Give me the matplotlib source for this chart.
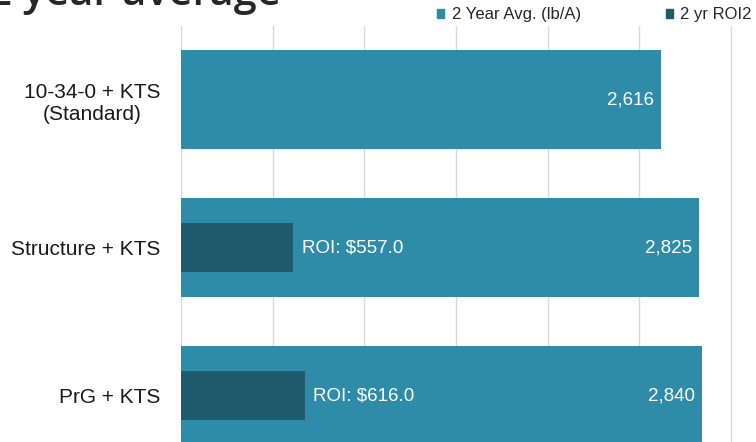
import matplotlib
matplotlib.use("Agg")
import matplotlib.pyplot as plt
import numpy as np
from matplotlib.patches import Patch

# Data
categories = ["10-34-0 + KTS\n(Standard)", "Structure + KTS", "PrG + KTS"]
yield_avg = [2616, 2825, 2840]          # 2 Year Avg. (lb/A)
roi = [np.nan, 557.0, 616.0]            # 2 yr ROI
series_names = ["2 Year Avg. (lb/A)", "2 yr ROI2"]
title_text = "Yield: 2 year average"

c_main = "#2E8CA8"
c_dark = "#1F5B6D"
grid_c = "#D9D9D9"
txt_c = "#1A1A1A"

plt.rcParams['font.family'] = ['Liberation Sans', 'DejaVu Sans']

W, H = 756, 442
fig = plt.figure(figsize=(W / 100, H / 100), dpi=100)

px_per_unit = 0.18333
xmax = 3200
left_px, top_px, bot_px = 181, 25.5, 469.5
ax_w = xmax * px_per_unit
ax = fig.add_axes([left_px / W, (H - bot_px) / H, ax_w / W, (bot_px - top_px) / H])

y = np.arange(len(categories))
ax.barh(y, yield_avg, height=0.67, color=c_main, zorder=2)
ax.set_xlim(0, xmax)
ax.set_ylim(len(categories) - 0.5, -0.5)
ax.set_xticks(np.arange(0, 3001, 500))
ax.xaxis.grid(True, color=grid_c, lw=1)
ax.set_axisbelow(True)
ax.tick_params(axis='x', length=0, labelbottom=False, labeltop=False)
ax.set_yticks(y)
ax.set_yticklabels(categories, fontsize=15, color=txt_c)
ax.tick_params(axis='y', length=0, pad=14.5)
for s in ax.spines.values():
    s.set_visible(False)

for yi, v in zip(y, yield_avg):
    ax.annotate(f"{v:,.0f}", xy=(v, yi), xytext=(-5, 0), textcoords='offset points',
                ha='right', va='center', color='white', fontsize=13.5, zorder=5)

ax2 = ax.twiny()
roi_px_per_unit = 0.2015
ax2.set_xlim(0, ax_w / roi_px_per_unit)
ax2.barh(y, np.nan_to_num(roi), height=0.33, color=c_dark, zorder=3)
ax2.tick_params(axis='x', length=0, labeltop=False, labelbottom=False)
for s in ax2.spines.values():
    s.set_visible(False)
for yi, v in zip(y, roi):
    if np.isfinite(v):
        ax2.annotate(f"ROI: ${v:.1f}", xy=(v, yi), xytext=(6, 0), textcoords='offset points',
                     ha='left', va='center', color='white', fontsize=13.5, zorder=5)

for lbl in ax.get_yticklabels():
    lbl.set_horizontalalignment('right')
    lbl.set_multialignment('center')

# Legend
handles = [Patch(color=c_main), Patch(color=c_dark)]
fig.legend(handles, series_names, ncol=2, loc='center left',
           bbox_to_anchor=(437 / W, 1 - 15 / H), frameon=False, fontsize=12,
           handlelength=0.42, handleheight=0.42, handletextpad=0.45,
           columnspacing=5.1, borderpad=0, borderaxespad=0, labelcolor='#262626')

# Title (partially cropped at the top/left, as in the reference)
fig.text(281 / W, 1 - 5 / H, title_text, ha='right', va='baseline',
         fontsize=30, fontweight='semibold', color='#262626',
         family=['Open Sans', 'DejaVu Sans'])

fig.savefig("out.png", dpi=100)
